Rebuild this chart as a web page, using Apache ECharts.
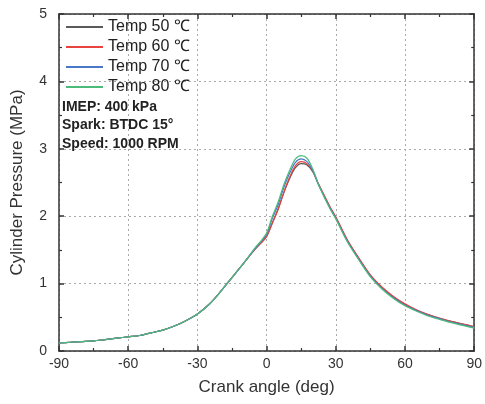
<!DOCTYPE html>
<html><head><meta charset="utf-8">
<script src="https://cdn.jsdelivr.net/npm/echarts@6/dist/echarts.min.js"></script>
<style>html,body{margin:0;padding:0;background:#fff}#c{width:485px;height:404px}</style>
</head><body><div id="c"></div>
<script>
const angles = [-90,-85,-80,-75,-70,-65,-60,-55,-50,-45,-40,-35,-30,-25,-20,-15,-10,-5,-2.5,0,2.5,5,7.5,10,12.5,15,17.5,20,22.5,25,27.5,30,35,40,45,50,55,60,65,70,75,80,85,90];
const temp50 = [0.12,0.13,0.14,0.15,0.17,0.19,0.21,0.23,0.27,0.31,0.37,0.45,0.55,0.69,0.88,1.09,1.30,1.51,1.60,1.70,1.90,2.11,2.35,2.56,2.72,2.78,2.76,2.66,2.47,2.30,2.13,1.98,1.64,1.37,1.12,0.94,0.80,0.69,0.60,0.54,0.48,0.44,0.40,0.36];
const temp60 = [0.12,0.13,0.14,0.15,0.17,0.19,0.21,0.23,0.27,0.31,0.37,0.45,0.55,0.69,0.88,1.09,1.30,1.51,1.60,1.70,1.90,2.10,2.36,2.58,2.75,2.81,2.78,2.67,2.48,2.31,2.14,1.99,1.65,1.38,1.13,0.95,0.81,0.70,0.61,0.54,0.49,0.44,0.40,0.36];
const temp70 = [0.12,0.13,0.14,0.15,0.17,0.19,0.21,0.23,0.27,0.31,0.37,0.45,0.55,0.69,0.88,1.09,1.30,1.52,1.62,1.73,1.97,2.17,2.43,2.64,2.80,2.85,2.81,2.68,2.47,2.29,2.12,1.97,1.63,1.36,1.11,0.93,0.79,0.68,0.60,0.53,0.48,0.43,0.39,0.35];
const temp80 = [0.12,0.13,0.14,0.15,0.17,0.19,0.21,0.23,0.27,0.31,0.37,0.45,0.55,0.69,0.88,1.09,1.30,1.53,1.63,1.75,2.00,2.21,2.47,2.68,2.85,2.90,2.86,2.70,2.47,2.28,2.11,1.96,1.62,1.35,1.10,0.92,0.78,0.67,0.59,0.52,0.47,0.42,0.38,0.34];
const seriesNames = ['Temp 50 ℃','Temp 60 ℃','Temp 70 ℃','Temp 80 ℃'];
const xTicks = [-90,-60,-30,0,30,60,90];
const yTicks = [0,1,2,3,4,5];
const notes = ['IMEP: 400 kPa','Spark: BTDC 15°','Speed: 1000 RPM'];

const colors = ['#5a5a5a','#e8433f','#4a78c8','#4cbb7a'];
const values = [temp50,temp60,temp70,temp80];
const font = 'Liberation Sans, Arial, sans-serif';
const chart = echarts.init(document.getElementById('c'));
const axisLine = {show:true, onZero:false, lineStyle:{color:'#333', width:1.5}};
const split = {show:true, lineStyle:{color:'#aaa', type:[2,3], width:1}};
const tick = {show:true, inside:true, length:5, lineStyle:{color:'#333', width:1.5}};
const minor = {show:true, splitNumber:2, length:3, lineStyle:{color:'#333', width:1.2}};
chart.setOption({
  animation:false,
  grid:{left:59,right:5,top:14,bottom:53},
  color:colors,
  legend:{
    orient:'vertical', left:61, top:14, itemWidth:37, itemHeight:2, itemGap:4, icon:'rect',
    textStyle:{fontFamily:font, fontSize:16, color:'#222', lineHeight:15},
    data:seriesNames
  },
  xAxis:[{
    type:'value', min:-90, max:90, interval:30,
    axisLine:axisLine, axisTick:tick, minorTick:minor, splitLine:split,
    axisLabel:{fontFamily:font, fontSize:14, color:'#333', margin:6},
    name:'Crank angle (deg)', nameLocation:'middle', nameGap:28,
    nameTextStyle:{fontFamily:font, fontSize:17, color:'#333'}
  },{
    type:'value', position:'top', min:-90, max:90, interval:30,
    axisLine:axisLine, axisTick:tick, minorTick:minor, splitLine:{show:false}, axisLabel:{show:false}
  }],
  yAxis:[{
    type:'value', min:0, max:5, interval:1,
    axisLine:axisLine, axisTick:tick, minorTick:minor, splitLine:split,
    axisLabel:{fontFamily:font, fontSize:14, color:'#333', margin:12},
    name:'Cylinder Pressure (MPa)', nameLocation:'middle', nameGap:33,
    nameTextStyle:{fontFamily:font, fontSize:17, color:'#333'}
  },{
    type:'value', position:'right', min:0, max:5, interval:1,
    axisLine:axisLine, axisTick:tick, minorTick:minor, splitLine:{show:false}, axisLabel:{show:false}
  }],
  graphic: notes.map((t,i)=>({
    type:'text', left:62, top:100 + i*18.5,
    style:{text:t, font:'bold 14px Liberation Sans, Arial, sans-serif', fill:'#222'}
  })),
  series: seriesNames.map((n,i)=>({
    name:n, type:'line', smooth:0.3, symbol:'none', showSymbol:false,
    lineStyle:{width:1.2, color:colors[i]},
    data: angles.map((a,j)=>[a, values[i][j]])
  }))
});
</script></body></html>
